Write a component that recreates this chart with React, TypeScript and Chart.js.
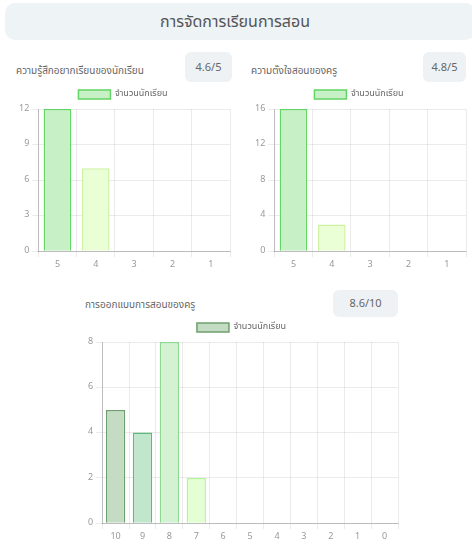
import React, { useEffect, useRef } from "react";
import { Chart, registerables } from "chart.js";

Chart.register(...registerables);

const pageTitle = "การจัดการเรียนการสอน";
const seriesLabel = "จำนวนนักเรียน";

const chart1Title = "ความรู้สึกอยากเรียนของนักเรียน";
const chart1Score = "4.6/5";
const chart1Labels = ["5", "4", "3", "2", "1"];
const chart1Values = [12, 7, 0, 0, 0];

const chart2Title = "ความตั้งใจสอนของครู";
const chart2Score = "4.8/5";
const chart2Labels = ["5", "4", "3", "2", "1"];
const chart2Values = [16, 3, 0, 0, 0];

const chart3Title = "การออกแบบการสอนของครู";
const chart3Score = "8.6/10";
const chart3Labels = ["10", "9", "8", "7", "6", "5", "4", "3", "2", "1", "0"];
const chart3Values = [5, 4, 8, 2, 0, 0, 0, 0, 0, 0, 0];

const fill5 = ["#c7f0c7", "#ebffd6", "#ebffd6", "#ebffd6", "#ebffd6"];
const border5 = ["#62d562", "#cdf3a2", "#cdf3a2", "#cdf3a2", "#cdf3a2"];
const fill11 = ["#c4dcc4", "#c0e6cc", "#d2f2d2", "#e3ffd3", "#e3ffd3", "#e3ffd3", "#e3ffd3", "#e3ffd3", "#e3ffd3", "#e3ffd3", "#e3ffd3"];
const border11 = ["#6f9f6f", "#5dba7d", "#8fd88f", "#b5f59a", "#b5f59a", "#b5f59a", "#b5f59a", "#b5f59a", "#b5f59a", "#b5f59a", "#b5f59a"];

const FONT = "'Noto Sans Thai', 'Noto Sans', 'DejaVu Sans', sans-serif";

function BarChart(props: {
  labels: string[];
  values: number[];
  fills: string[];
  borders: string[];
  max: number;
  step: number;
  style: React.CSSProperties;
}) {
  const ref = useRef<HTMLCanvasElement | null>(null);
  useEffect(() => {
    if (!ref.current) return;
    const chart = new Chart(ref.current, {
      type: "bar",
      data: {
        labels: props.labels,
        datasets: [
          {
            label: seriesLabel,
            data: props.values,
            backgroundColor: props.fills,
            borderColor: props.borders,
            borderWidth: 1.5,
          },
        ],
      },
      options: {
        animation: false,
        responsive: true,
        maintainAspectRatio: false,
        layout: { padding: { right: 4 } },
        plugins: {
          legend: {
            labels: {
              boxWidth: 32,
              boxHeight: 9,
              color: "#666",
              font: { family: FONT, size: 9 },
              padding: 8,
            },
          },
          tooltip: { enabled: false },
        },
        scales: {
          x: {
            grid: { color: "rgba(0,0,0,0.08)", tickLength: 6 },
            border: { color: "rgba(0,0,0,0.2)" },
            ticks: { color: "#999", font: { family: FONT, size: 9 } },
          },
          y: {
            min: 0,
            max: props.max,
            grid: { color: "rgba(0,0,0,0.08)", tickLength: 6 },
            border: { color: "rgba(0,0,0,0.2)" },
            ticks: { stepSize: props.step, color: "#999", font: { family: FONT, size: 9 } },
          },
        },
      },
    });
    return () => chart.destroy();
  }, []);
  return (
    <div style={{ position: "absolute", ...props.style }}>
      <canvas ref={ref} />
    </div>
  );
}

const badge: React.CSSProperties = {
  position: "absolute",
  background: "#eef2f5",
  borderRadius: 6,
  color: "#666",
  fontSize: 11,
  display: "flex",
  alignItems: "center",
  justifyContent: "center",
};

const label: React.CSSProperties = {
  position: "absolute",
  color: "#666",
  fontSize: 10,
  whiteSpace: "nowrap",
};

export default function App() {
  return (
    <div
      style={{
        position: "absolute",
        left: 0,
        top: 0,
        width: 472,
        height: 544,
        background: "#fff",
        fontFamily: FONT,
        overflow: "hidden",
      }}
    >
      <div
        style={{
          position: "absolute",
          left: 5,
          top: 3,
          width: 470,
          height: 37,
          background: "#eef3f5",
          borderRadius: 10,
          display: "flex",
          alignItems: "center",
          justifyContent: "center",
          color: "#555",
          fontSize: 16,
        }}
      >
        <span style={{ marginLeft: -10 }}>{pageTitle}</span>
      </div>

      <div style={{ ...label, left: 16, top: 63 }}>{chart1Title}</div>
      <div style={{ ...badge, left: 185, top: 52, width: 47, height: 30 }}>{chart1Score}</div>
      <div style={{ ...label, left: 251, top: 63 }}>{chart2Title}</div>
      <div style={{ ...badge, left: 423, top: 52, width: 43, height: 30 }}>{chart2Score}</div>

      <BarChart
        labels={chart1Labels}
        values={chart1Values}
        fills={fill5}
        borders={border5}
        max={12}
        step={3}
        style={{ left: 16, top: 82, width: 218, height: 192 }}
      />
      <BarChart
        labels={chart2Labels}
        values={chart2Values}
        fills={fill5}
        borders={border5}
        max={16}
        step={4}
        style={{ left: 252, top: 82, width: 218, height: 192 }}
      />

      <div style={{ ...label, left: 85, top: 297 }}>{chart3Title}</div>
      <div style={{ ...badge, left: 333, top: 290, width: 65, height: 27 }}>{chart3Score}</div>

      <BarChart
        labels={chart3Labels}
        values={chart3Values}
        fills={fill11}
        borders={border11}
        max={8}
        step={2}
        style={{ left: 85, top: 315, width: 317, height: 231 }}
      />
    </div>
  );
}
